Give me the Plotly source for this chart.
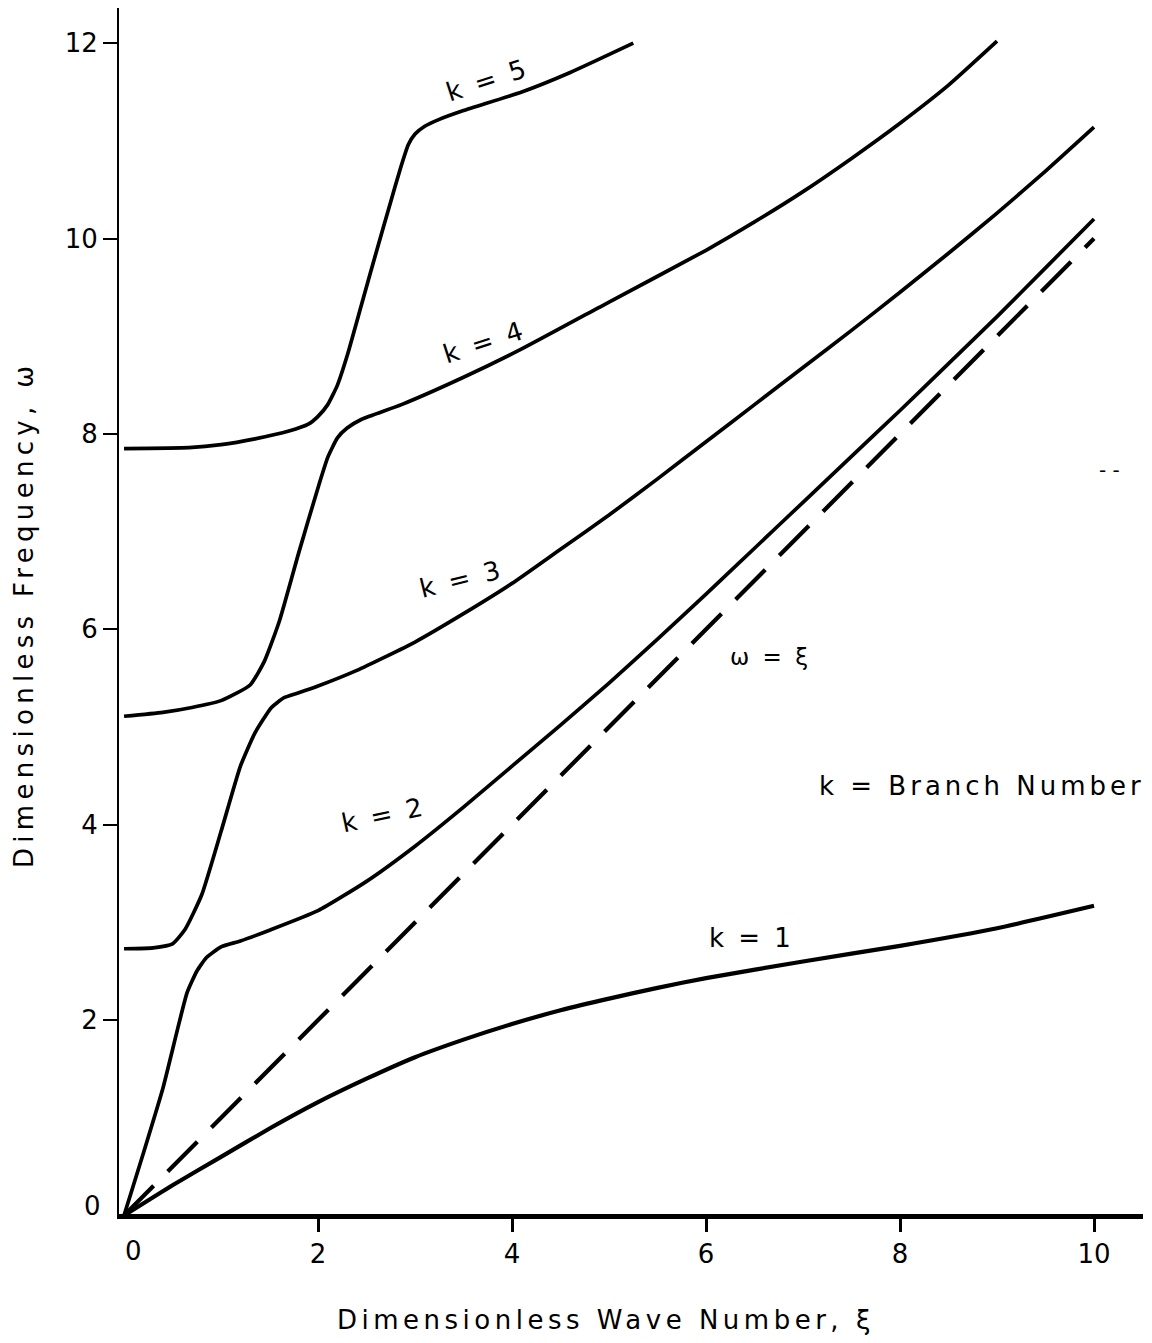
import plotly.graph_objects as go

# ---- data ----
k1_x = [0, 0.5, 1.0, 1.5, 2.0, 2.5, 3.0, 3.5, 4.0, 4.5, 5.0, 5.5, 6.0, 7.0, 8.0, 9.0, 10.0]
k1_y = [0, 0.31, 0.60, 0.89, 1.16, 1.40, 1.62, 1.80, 1.96, 2.10, 2.22, 2.33, 2.43, 2.60, 2.76, 2.94, 3.17]

k2_x = [0, 0.2, 0.4, 0.55, 0.65, 0.75, 0.85, 1.0, 1.2, 1.5, 2.0, 2.5, 3.0, 3.5, 4.0, 4.5,
        5.0, 5.5, 6.0, 6.5, 7.0, 7.5, 8.0, 8.5, 9.0, 9.5, 10.0]
k2_y = [0, 0.64, 1.30, 1.90, 2.28, 2.50, 2.64, 2.75, 2.81, 2.92, 3.12, 3.42, 3.78, 4.18, 4.60, 5.02,
        5.45, 5.90, 6.36, 6.83, 7.30, 7.77, 8.24, 8.72, 9.20, 9.70, 10.2]

k3_x = [0, 0.3, 0.5, 0.63, 0.8, 1.0, 1.2, 1.35, 1.52, 1.65, 1.8, 2.0, 2.4, 3.0, 3.5, 4.0,
        4.5, 5.0, 5.5, 6.0, 6.5, 7.0, 7.5, 8.0, 8.5, 9.0, 9.5, 10.0]
k3_y = [2.73, 2.74, 2.78, 2.93, 3.28, 3.93, 4.60, 4.94, 5.20, 5.30, 5.35, 5.42, 5.58, 5.87, 6.16, 6.47,
        6.82, 7.17, 7.54, 7.92, 8.30, 8.68, 9.06, 9.45, 9.85, 10.26, 10.69, 11.14]

k4_x = [0, 0.4, 0.7, 1.0, 1.3, 1.45, 1.6, 1.8, 2.0, 2.1, 2.2, 2.3, 2.45, 2.86, 3.5, 4.1,
        5.0, 6.0, 6.5, 7.0, 7.5, 8.0, 8.5, 9.0]
k4_y = [5.11, 5.15, 5.20, 5.27, 5.43, 5.68, 6.08, 6.78, 7.45, 7.76, 7.96, 8.06, 8.15, 8.30, 8.58, 8.87,
        9.35, 9.88, 10.17, 10.48, 10.82, 11.18, 11.57, 12.02]

k5_x = [0, 0.67, 1.0, 1.35, 1.7, 1.9, 2.0, 2.1, 2.2, 2.3, 2.45, 2.6, 2.75, 2.85, 2.93, 3.0,
        3.1, 3.25, 3.5, 4.1, 4.6, 5.25]
k5_y = [7.85, 7.86, 7.89, 7.95, 8.03, 8.10, 8.18, 8.30, 8.50, 8.80, 9.33, 9.86, 10.38, 10.72, 10.96, 11.07,
        11.15, 11.22, 11.31, 11.50, 11.70, 12.0]

diag_x = [0, 10]
diag_y = [0, 10]

x_tick_vals = [2, 4, 6, 8, 10]
x_tick_text = ["2", "4", "6", "8", "10"]
y_tick_vals = [2, 4, 6, 8, 10, 12]
y_tick_text = ["2", "4", "6", "8", "10", "12"]
zero_label = "0"

branch_labels = ["k = 1", "k = 2", "k = 3", "k = 4", "k = 5"]
branch_label_x = [6.47, 2.67, 3.48, 3.72, 3.75]
branch_label_y = [2.84, 4.10, 6.51, 8.94, 11.62]
branch_label_angle = [0, -12, -14, -18, -18]

x_title = "Dimensionless Wave Number, ξ"
y_title = "Dimensionless Frequency, ω"
diag_label = "ω = ξ"
legend_note = "k = Branch Number"

FONT = "DejaVu Sans"

def spaced(t, px):
    return '<span style="letter-spacing:%spx">%s</span>' % (px, t)

fig = go.Figure()

curves = [(k1_x, k1_y, 4.2), (k2_x, k2_y, 3.7), (k3_x, k3_y, 3.7), (k4_x, k4_y, 3.7), (k5_x, k5_y, 3.7)]
for xs, ys, w in curves:
    fig.add_trace(go.Scatter(x=xs, y=ys, mode="lines",
                             line=dict(color="black", width=w, shape="spline", smoothing=0.5),
                             showlegend=False, hoverinfo="skip"))

fig.add_trace(go.Scatter(x=diag_x, y=diag_y, mode="lines",
                         line=dict(color="black", width=4.2, dash="42px,20px"),
                         showlegend=False, hoverinfo="skip"))

annotations = []
for t, x, y, a in zip(branch_labels, branch_label_x, branch_label_y, branch_label_angle):
    annotations.append(dict(x=x, y=y, xref="x", yref="y", text=spaced(t, 3), textangle=a,
                            showarrow=False, font=dict(family=FONT, size=26, color="black")))
annotations.append(dict(x=6.66, y=5.72, xref="x", yref="y", text=spaced(diag_label, 3),
                        showarrow=False, font=dict(family=FONT, size=23, color="black")))
annotations.append(dict(x=8.84, y=4.40, xref="x", yref="y", text=spaced(legend_note, 4),
                        showarrow=False, font=dict(family=FONT, size=26, color="black")))
annotations.append(dict(x=10.16, y=7.63, xref="x", yref="y", text="- -",
                        showarrow=False, font=dict(family=FONT, size=20, color="black")))
# zero tick labels (outside the plotting area, so placed on the paper)
annotations.append(dict(x=0.0146, y=-0.0307, xref="paper", yref="paper", text=zero_label,
                        showarrow=False, xanchor="center", yanchor="middle",
                        font=dict(family=FONT, size=26, color="black")))
annotations.append(dict(x=-0.0156, y=0.0066, xref="paper", yref="paper", text=zero_label,
                        showarrow=False, xanchor="right", yanchor="middle",
                        font=dict(family=FONT, size=26, color="black")))
# axis titles
annotations.append(dict(x=0.4756, y=-0.0879, xref="paper", yref="paper", text=spaced(x_title, 4.5),
                        showarrow=False, yanchor="middle",
                        font=dict(family=FONT, size=26, color="black")))
annotations.append(dict(x=-0.0928, y=0.4975, xref="paper", yref="paper", text=spaced(y_title, 5.3),
                        showarrow=False, textangle=-90, xanchor="center",
                        font=dict(family=FONT, size=26, color="black")))

fig.update_layout(
    width=1152, height=1343,
    margin=dict(l=119, r=9, t=8, b=129),
    paper_bgcolor="white", plot_bgcolor="white",
    showlegend=False,
    annotations=annotations,
    font=dict(family=FONT, size=26, color="black"),
)
fig.update_xaxes(range=[-0.052, 10.505], showgrid=False, zeroline=False,
                 showline=True, linecolor="black", linewidth=5,
                 ticks="outside", ticklen=13, tickwidth=3, tickcolor="black",
                 tickvals=x_tick_vals, ticktext=x_tick_text,
                 tickfont=dict(family=FONT, size=26, color="black"))
fig.update_yaxes(range=[0.015, 12.36], showgrid=False, zeroline=False,
                 showline=True, linecolor="black", linewidth=2,
                 ticks="outside", ticklen=14, tickwidth=2, tickcolor="black",
                 tickvals=y_tick_vals, ticktext=y_tick_text,
                 tickfont=dict(family=FONT, size=26, color="black"))

fig.write_html("out.html")
